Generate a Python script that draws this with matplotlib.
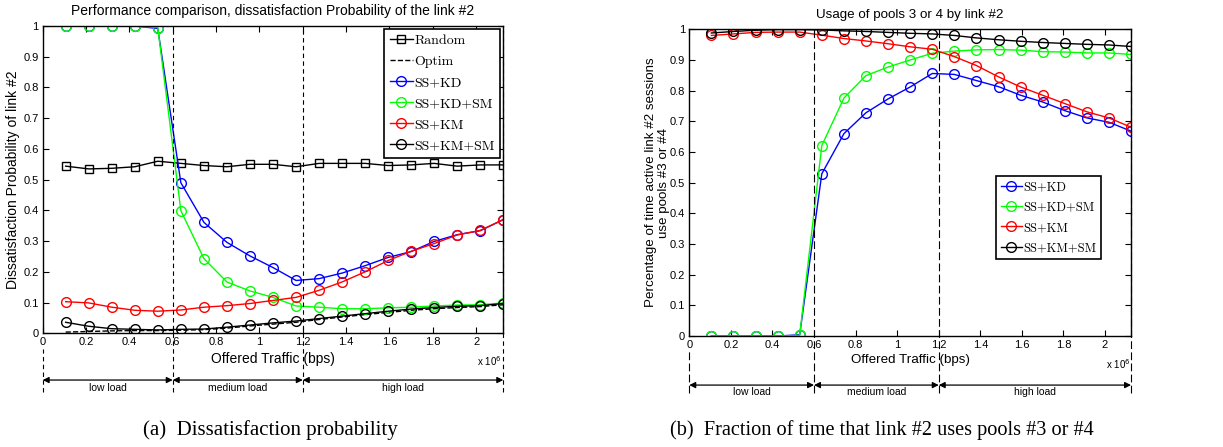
import matplotlib
matplotlib.use("Agg")
import matplotlib.pyplot as plt

# offered traffic, in units of 1e6 bps
traffic = [0.106, 0.2125, 0.319, 0.425, 0.531, 0.6375, 0.744, 0.85, 0.956, 1.0625,
           1.169, 1.275, 1.381, 1.4875, 1.594, 1.70, 1.806, 1.9125, 2.019, 2.125]

# (a) dissatisfaction probability of link #2
diss_random = [0.544, 0.535, 0.537, 0.542, 0.560, 0.553, 0.546, 0.542, 0.550, 0.550,
               0.542, 0.553, 0.553, 0.553, 0.546, 0.548, 0.553, 0.544, 0.548, 0.548]
diss_optim = [0.004, 0.006, 0.008, 0.009, 0.009, 0.010, 0.012, 0.017, 0.024, 0.030,
              0.036, 0.045, 0.053, 0.061, 0.068, 0.075, 0.080, 0.084, 0.087, 0.093]
diss_kd = [1.0, 1.0, 1.0, 1.0, 0.992, 0.490, 0.361, 0.296, 0.252, 0.214,
           0.172, 0.178, 0.196, 0.220, 0.247, 0.266, 0.299, 0.321, 0.334, 0.370]
diss_kd_sm = [1.0, 1.0, 1.0, 1.0, 0.995, 0.399, 0.243, 0.167, 0.138, 0.117,
              0.089, 0.085, 0.080, 0.080, 0.083, 0.085, 0.089, 0.092, 0.093, 0.099]
diss_km = [0.103, 0.099, 0.085, 0.075, 0.072, 0.076, 0.085, 0.090, 0.097, 0.107,
           0.117, 0.140, 0.167, 0.200, 0.237, 0.267, 0.292, 0.320, 0.335, 0.370]
diss_km_sm = [0.036, 0.023, 0.015, 0.013, 0.011, 0.013, 0.014, 0.020, 0.027, 0.034,
              0.040, 0.048, 0.056, 0.064, 0.072, 0.079, 0.084, 0.088, 0.090, 0.097]

# (b) fraction of time link #2 uses pools #3 or #4
use_kd = [0.0, 0.0, 0.0, 0.0, 0.004, 0.529, 0.660, 0.728, 0.773, 0.812,
          0.856, 0.853, 0.833, 0.813, 0.785, 0.763, 0.735, 0.711, 0.697, 0.668]
use_kd_sm = [0.0, 0.0, 0.0, 0.0, 0.002, 0.621, 0.776, 0.849, 0.877, 0.900,
             0.922, 0.929, 0.933, 0.934, 0.932, 0.927, 0.926, 0.923, 0.923, 0.918]
use_km = [0.980, 0.985, 0.990, 0.991, 0.991, 0.981, 0.970, 0.962, 0.953, 0.943,
          0.935, 0.911, 0.882, 0.845, 0.812, 0.785, 0.758, 0.731, 0.711, 0.681]
use_km_sm = [0.988, 0.993, 0.997, 0.999, 0.999, 0.998, 0.995, 0.993, 0.990, 0.987,
             0.985, 0.980, 0.972, 0.966, 0.961, 0.957, 0.954, 0.951, 0.949, 0.944]

load_bounds = [0.0, 0.6, 1.2, 2.125]
load_names = ["low load", "medium load", "high load"]
x_ticks = [0, 0.2, 0.4, 0.6, 0.8, 1, 1.2, 1.4, 1.6, 1.8, 2]
y_ticks = [0, 0.1, 0.2, 0.3, 0.4, 0.5, 0.6, 0.7, 0.8, 0.9, 1]

plt.rcParams["font.family"] = ["Liberation Sans", "DejaVu Sans"]

fig = plt.figure(figsize=(12.23, 4.47), dpi=100)
ax1 = fig.add_axes([0.0349, 0.2543, 0.3766, 0.6875])
ax2 = fig.add_axes([0.5636, 0.2483, 0.3612, 0.6861])

ms = 7
ax1.plot(traffic, diss_random, color="k", lw=1, marker="s", ms=6, mfc="none", label="Random")
ax1.plot(traffic, diss_optim, color="k", lw=1, ls="--", label="Optim")
ax1.plot(traffic, diss_kd, color="b", lw=1, marker="o", ms=ms, mfc="none", label="SS+KD")
ax1.plot(traffic, diss_kd_sm, color="#00ff00", lw=1, marker="o", ms=ms, mfc="none", label="SS+KD+SM")
ax1.plot(traffic, diss_km, color="r", lw=1, marker="o", ms=ms, mfc="none", label="SS+KM")
ax1.plot(traffic, diss_km_sm, color="k", lw=1, marker="o", ms=ms, mfc="none", label="SS+KM+SM")

ax2.plot(traffic, use_kd, color="b", lw=1, marker="o", ms=ms, mfc="none", label="SS+KD")
ax2.plot(traffic, use_kd_sm, color="#00ff00", lw=1, marker="o", ms=ms, mfc="none", label="SS+KD+SM")
ax2.plot(traffic, use_km, color="r", lw=1, marker="o", ms=ms, mfc="none", label="SS+KM")
ax2.plot(traffic, use_km_sm, color="k", lw=1, marker="o", ms=ms, mfc="none", label="SS+KM+SM")


def style_axes(ax, arrow_y, text_y, low_y, dash, fs):
    ax.set_xlim(0, 2.125)
    ax.set_ylim(0, 1)
    ax.set_xticks(x_ticks)
    ax.set_xticklabels(["0", "0.2", "0.4", "0.6", "0.8", "1", "1.2", "1.4", "1.6", "1.8", "2"])
    ax.set_yticks(y_ticks)
    ax.set_yticklabels(["0", "0.1", "0.2", "0.3", "0.4", "0.5", "0.6", "0.7", "0.8", "0.9", "1"])
    ax.tick_params(direction="in", top=True, right=True, labelsize=8, length=4, width=0.8, pad=3)
    for s in ax.spines.values():
        s.set_linewidth(1.0)
    ax.set_xlabel("Offered Traffic (bps)", fontsize=fs, labelpad=3)
    ax.text(0.97, -0.09, r"x 10$^6$", transform=ax.transAxes, fontsize=7, ha="center", va="center")
    trans = ax.get_xaxis_transform()
    # load region boundaries
    ax.vlines(load_bounds[0], low_y, -0.05, transform=trans, color="k", lw=0.8,
              linestyles=dash, clip_on=False)
    for xb in load_bounds[1:]:
        ax.vlines(xb, low_y, 1, transform=trans, color="k", lw=0.8, linestyles=dash, clip_on=False)
    for i, name in enumerate(load_names):
        a, b = load_bounds[i], load_bounds[i + 1]
        ax.annotate("", xy=(a, arrow_y), xytext=(b, arrow_y), xycoords=trans, textcoords=trans,
                    arrowprops=dict(arrowstyle="<|-|>", color="k", lw=0.9, shrinkA=0, shrinkB=0,
                                    mutation_scale=9), annotation_clip=False)
        ax.text((a + b) / 2, text_y, name, transform=trans, fontsize=7.5, ha="center", va="center")


style_axes(ax1, -0.152, -0.178, -0.19, (0, (4, 3)), 10)
style_axes(ax2, -0.160, -0.182, -0.186, (0, (7, 3)), 9.6)

ax1.set_title("Performance comparison, dissatisfaction Probability of the link #2", fontsize=10, pad=8)
ax1.set_ylabel("Dissatisfaction Probability of link #2", fontsize=10, labelpad=2)
ax2.set_title("Usage of pools 3 or 4 by link #2", fontsize=9.6, pad=8)
ax2.set_ylabel("Percentage of time active link #2 sessions\nuse pools #3 or #4", fontsize=9.6,
               labelpad=0, linespacing=1.1)

leg1 = ax1.legend(loc="upper right", prop={"family": "cmr10", "size": 10}, borderaxespad=0.2,
                  fancybox=False, framealpha=1, edgecolor="k", handlelength=1.7, handletextpad=0.1,
                  borderpad=0.4, labelspacing=0.6)
leg1.get_frame().set_linewidth(1.2)
leg2 = ax2.legend(loc="lower left", bbox_to_anchor=(0.694, 0.251), prop={"family": "cmr10", "size": 9},
                  borderaxespad=0, fancybox=False, framealpha=1, edgecolor="k", handlelength=1.7,
                  handletextpad=0.1, borderpad=0.4, labelspacing=0.65)
leg2.get_frame().set_linewidth(1.2)

fig.text(0.2208, 0.038, "(a)  Dissatisfaction probability", family="Liberation Serif", fontsize=15,
         ha="center", va="center")
fig.text(0.7212, 0.038, "(b)  Fraction of time that link #2 uses pools #3 or #4", family="Liberation Serif",
         fontsize=14.6, ha="center", va="center")

fig.savefig("out.png", dpi=100)
